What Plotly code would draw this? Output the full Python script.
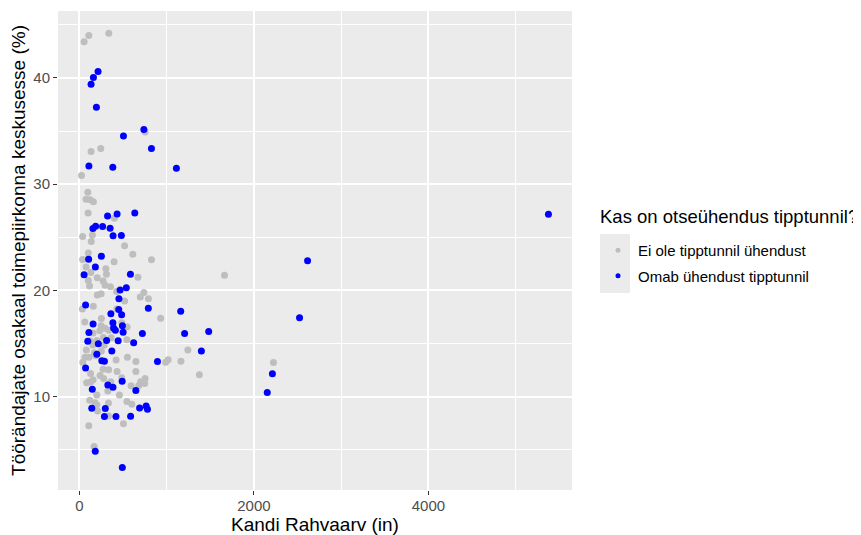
import plotly.graph_objects as go

# Data
grey_label = "Ei ole tipptunnil ühendust"
blue_label = "Omab ühendust tipptunnil"
legend_title = "Kas on otseühendus tipptunnil?"

grey_x = [54, 108, 337, 753, 245, 134, 25, 97, 77, 123,
          161, 100, 401, 37, 149, 136, 518, 612, 826, 102,
          100, 37, 398, 77, 303, 131, 310, 671, 205, 1663,
          102, 117, 272, 295, 356, 427, 205, 249, 739, 698,
          791, 518, 34, 159, 429, 931, 62, 252, 486, 547,
          249, 295, 157, 234, 337, 123, 200, 275, 364, 544,
          283, 154, 1243, 80, 65, 172, 252, 39, 111, 188,
          421, 550, 648, 989, 1017, 1164, 2224, 1375, 272, 237,
          335, 432, 486, 647, 128, 157, 278, 83, 128, 702,
          748, 753, 593, 681, 360, 326, 459, 200, 119, 180,
          209, 333, 545, 601, 333, 505, 108, 169, 200]
grey_y = [43.4, 44.0, 44.2, 34.9, 33.35, 33.06, 30.81, 29.24, 28.58, 28.53,
          28.34, 27.29, 26.78, 25.06, 25.2, 24.6, 24.19, 23.4, 22.88, 23.51,
          22.98, 22.9, 22.69, 22.2, 22.03, 21.67, 21.52, 21.23, 21.18, 21.43,
          20.93, 20.4, 20.89, 20.48, 20.34, 19.88, 19.56, 19.67, 19.79, 19.37,
          19.2, 18.99, 18.24, 18.5, 18.24, 17.37, 17.02, 17.34, 16.95, 16.55,
          16.66, 16.44, 15.98, 16.2, 16.25, 15.25, 15.28, 15.56, 15.54, 15.35,
          14.82, 14.86, 14.39, 14.38, 13.69, 14.13, 14.29, 13.22, 13.69, 13.84,
          13.43, 13.7, 13.3, 13.22, 13.47, 13.33, 13.21, 12.04, 12.58, 11.97,
          12.53, 12.35, 11.78, 12.35, 12.16, 11.59, 11.69, 11.29, 11.37, 11.4,
          11.22, 11.69, 11.01, 11.03, 11.4, 10.53, 10.15, 10.15, 9.65, 9.41,
          8.64, 9.39, 9.53, 9.28, 8.17, 7.44, 7.25, 5.3, 9.22]

blue_x = [214, 161, 134, 195, 739, 505, 826, 109, 383, 1112,
          323, 432, 635, 155, 186, 266, 352, 386, 481, 252,
          106, 183, 54, 585, 467, 538, 453, 71, 790, 1161,
          451, 484, 361, 2523, 2615, 5375, 157, 384, 392, 413,
          493, 501, 722, 1206, 1482, 109, 96, 312, 444, 622,
          217, 372, 1398, 200, 257, 287, 895, 2212, 2153, 71,
          490, 326, 385, 148, 647, 142, 297, 287, 419, 587,
          690, 765, 780, 182, 492]
blue_y = [40.6, 40.03, 39.4, 37.24, 35.15, 34.52, 33.36, 31.7, 31.58, 31.49,
          27.0, 27.19, 27.28, 25.82, 26.04, 26.02, 25.84, 25.15, 25.16, 23.21,
          22.93, 22.2, 21.47, 21.52, 20.04, 20.25, 19.2, 18.63, 18.31, 18.02,
          18.19, 17.71, 17.8, 17.41, 22.78, 27.17, 16.82, 16.95, 16.45, 16.25,
          16.66, 16.06, 15.94, 15.93, 16.13, 16.04, 15.2, 15.27, 15.25, 15.06,
          14.96, 14.29, 14.29, 13.97, 13.38, 13.33, 13.31, 12.14, 10.37, 12.69,
          11.45, 11.08, 10.88, 10.68, 10.58, 8.9, 8.87, 8.12, 8.12, 8.14,
          8.93, 9.11, 8.8, 4.86, 3.32]

x_ticks = [0, 2000, 4000]
y_ticks = [10, 20, 30, 40]

GREY = "#BEBEBE"
BLUE = "#0000FF"
FONT = "Liberation Sans, Arial, sans-serif"

fig = go.Figure()
fig.add_trace(go.Scatter(x=grey_x, y=grey_y, mode="markers", showlegend=False,
                         marker=dict(color=GREY, size=7, line=dict(width=0))))
fig.add_trace(go.Scatter(x=blue_x, y=blue_y, mode="markers", showlegend=False,
                         marker=dict(color=BLUE, size=7, line=dict(width=0))))
# legend entries
fig.add_trace(go.Scatter(x=[None], y=[None], mode="markers", name=grey_label,
                         legendgroup="a", marker=dict(color=GREY, size=5)))
fig.add_trace(go.Scatter(x=[None], y=[None], mode="markers", name=blue_label,
                         legendgroup="b", marker=dict(color=BLUE, size=5)))

# page has an 8px body margin, so the figure is 8px smaller than the window
W, H = 853, 527
L, R, T, B = 50, 289, 3, 45
pw, ph = W - L - R, H - T - B

def fx(px):
    return (px - L) / pw

def fy(py):
    return (H - B - py) / ph

fig.add_shape(type="rect", xref="paper", yref="paper",
              x0=fx(592), x1=fx(622), y0=fy(285), y1=fy(226),
              fillcolor="#EBEBEB", line=dict(width=0), layer="above")

fig.add_annotation(text=legend_title, xref="paper", yref="paper",
                   x=fx(590), y=fy(208), xanchor="left", yanchor="middle",
                   showarrow=False,
                   font=dict(family=FONT, size=18.5, color="black"))

axis_common = dict(showline=False, zeroline=False, ticks="outside", ticklen=4,
                   tickwidth=1, tickcolor="#333333",
                   tickfont=dict(family=FONT, size=15, color="#4D4D4D"),
                   showgrid=True, gridcolor="white", gridwidth=1.8)

fig.update_xaxes(range=[-245, 5645], tickvals=x_ticks, ticklabelstandoff=-2,
                 minor=dict(dtick=1000, tick0=0, showgrid=True, gridcolor="white", gridwidth=0.9),
                 title=dict(text="Kandi Rahvaarv (in)", standoff=5,
                            font=dict(family=FONT, size=19, color="black")),
                 **axis_common)
fig.update_yaxes(range=[1.2, 46.3], tickvals=y_ticks,
                 minor=dict(dtick=5, tick0=0, showgrid=True, gridcolor="white", gridwidth=0.9),
                 title=dict(text="Töörändajate osakaal toimepiirkonna keskusesse (%)", standoff=5,
                            font=dict(family=FONT, size=19, color="black")),
                 **axis_common)

fig.update_layout(
    width=W, height=H,
    margin=dict(l=L, r=R, t=T, b=B, autoexpand=False),
    paper_bgcolor="white", plot_bgcolor="#EBEBEB",
    font=dict(family=FONT, color="black"),
    legend=dict(x=fx(590), xanchor="left", y=fy(226), yanchor="top",
                bgcolor="rgba(0,0,0,0)", tracegroupgap=3, traceorder="grouped",
                font=dict(family=FONT, size=15, color="black"),
                itemsizing="trace"),
)

fig.write_html("out.html")
